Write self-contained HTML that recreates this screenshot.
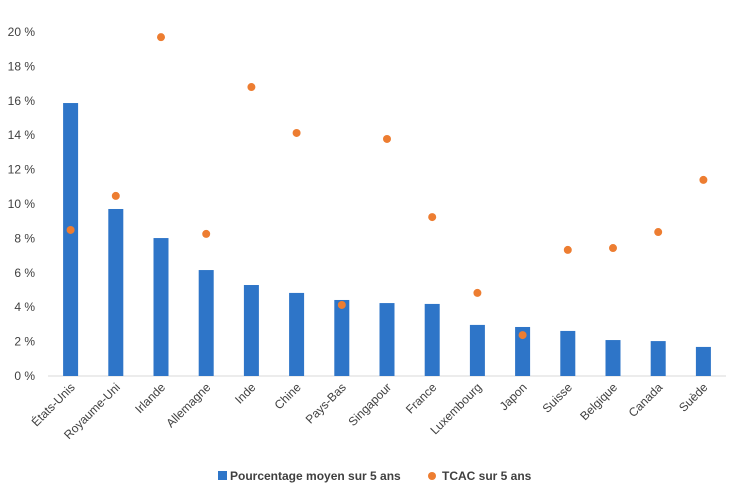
<!DOCTYPE html>
<html><head><meta charset="utf-8"><style>
body{margin:0;background:#fff;font-family:"Liberation Sans",sans-serif}
svg text{font-family:"Liberation Sans",sans-serif;fill:#404040}
</style></head><body>
<svg id="chart" width="748" height="495" xmlns="http://www.w3.org/2000/svg"></svg>
<script>
const categories=["États-Unis","Royaume-Uni","Irlande","Allemagne","Inde","Chine","Pays-Bas","Singapour","France","Luxembourg","Japon","Suisse","Belgique","Canada","Suède"];
const avgPct=[15.87,9.71,8.02,6.16,5.29,4.83,4.42,4.24,4.19,2.97,2.85,2.62,2.09,2.03,1.69];
const cagr=[8.49,10.47,19.7,8.26,16.8,14.13,4.13,13.78,9.24,4.83,2.38,7.33,7.44,8.37,11.4];
const yTicks=[0,2,4,6,8,10,12,14,16,18,20];
const svg=document.getElementById('chart');
const NS='http://www.w3.org/2000/svg';
const x0=48,x1=726,yBase=376,yTop=32,yMax=20;
const step=(x1-x0)/categories.length;
const xc=i=>x0+step*(i+0.5);
const y=v=>yBase-(v/yMax)*(yBase-yTop);
function mk(t,a){const e=document.createElementNS(NS,t);for(const k in a)e.setAttribute(k,a[k]);svg.appendChild(e);return e;}
yTicks.forEach(v=>{const t=mk('text',{x:35,y:y(v)+4,'text-anchor':'end','font-size':'12'});t.textContent=v+' %';

});
const ax=mk('line',{x1:x0,x2:x1,y1:yBase,y2:yBase,stroke:'#d9d9d9','stroke-width':1});


categories.forEach((c,i)=>{
const b=mk('rect',{x:xc(i)-7.5,y:y(avgPct[i]),width:15,height:yBase-y(avgPct[i]),fill:'#2e75c8'});


const d=mk('circle',{cx:xc(i),cy:y(cagr[i]),r:4,fill:'#ed7d31'});


const t=mk('text',{x:xc(i)+5,y:388,'text-anchor':'end','font-size':'12',transform:`rotate(-45 ${xc(i)+5} 388)`});
t.textContent=c;


});
const lr=mk('rect',{x:218,y:471,width:9,height:9,fill:'#2e75c8'});


const lt=mk('text',{x:230,y:480,'font-size':'12','font-weight':'bold'});lt.textContent='Pourcentage moyen sur 5 ans';


const lc=mk('circle',{cx:432,cy:476,r:4,fill:'#ed7d31'});


const lt2=mk('text',{x:442,y:480,'font-size':'12','font-weight':'bold'});lt2.textContent='TCAC sur 5 ans';


</script>
</body></html>
